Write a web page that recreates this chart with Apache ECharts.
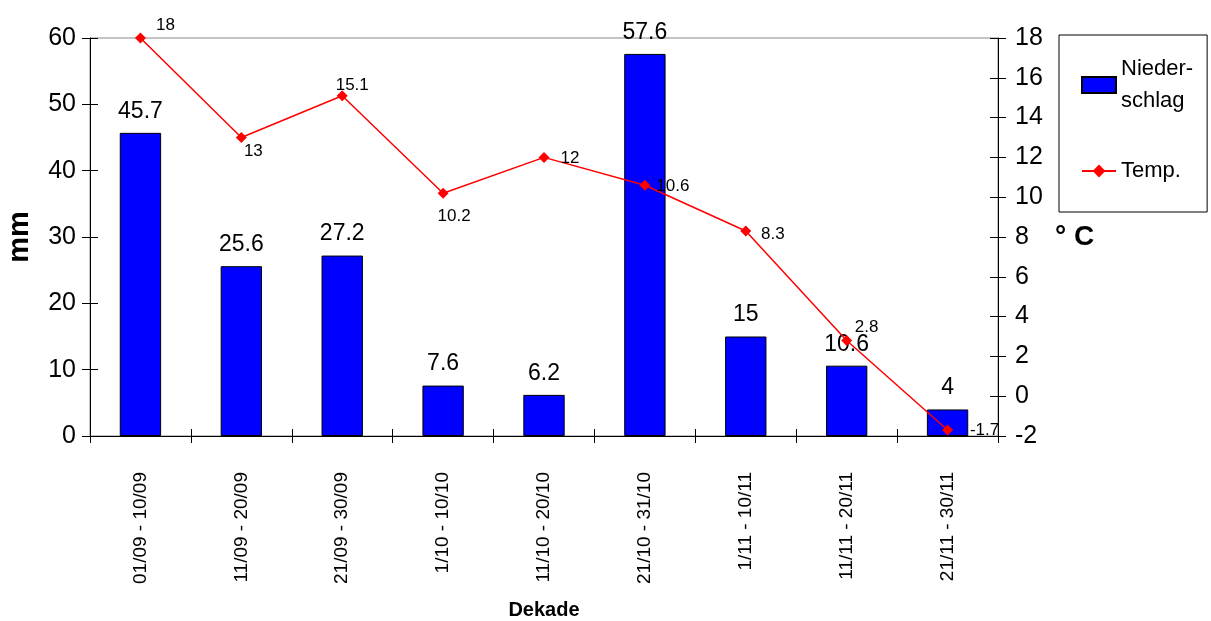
<!DOCTYPE html>
<html>
<head>
<meta charset="utf-8">
<script src="https://cdn.jsdelivr.net/npm/echarts@6/dist/echarts.min.js"></script>
<style>
  html,body{margin:0;padding:0;background:#fff;}
  #chart{width:1211px;height:621px;}
</style>
</head>
<body>
<div id="chart"></div>
<script>
var dekaden = ["01/09 - 10/09", "11/09 - 20/09", "21/09 - 30/09", "1/10 - 10/10", "11/10 - 20/10",
  "21/10 - 31/10", "1/11 - 10/11", "11/11 - 20/11", "21/11 - 30/11"];
var niederschlag = [45.7, 25.6, 27.2, 7.6, 6.2, 57.6, 15, 10.6, 4];
var temp = [18, 13, 15.1, 10.2, 12, 10.6, 8.3, 2.8, -1.7];
var mmTicks = { min: 0, max: 60, step: 10 };
var cTicks = { min: -2, max: 18, step: 2 };

var font = "Arial, 'Liberation Sans', sans-serif";
var chart = echarts.init(document.getElementById("chart"));

// where each temperature label sits around its point
var tempLabelOffset = [[25, -13], [12, 14], [10, -10], [11, 23], [26, 1], [28, 1], [27, 3], [20, -13], [37, 0]];

var tempData = [];
for (var i = 0; i < temp.length; i++) {
  tempData.push({
    value: temp[i],
    label: { offset: tempLabelOffset[i] }
  });
}

function yAx(pos, t, inside, labels) {
  return {
    type: "value", position: pos, min: t.min, max: t.max, interval: t.step,
    axisLine: { show: labels, lineStyle: { color: "#000", width: 1 } },
    axisTick: { show: true, inside: inside, length: 8, lineStyle: { color: "#000" } },
    axisLabel: { show: labels, color: "#000", fontSize: 25, fontFamily: font, margin: pos == "left" ? 14 : 17 },
    splitLine: { show: false }
  };
}

chart.setOption({
  animation: false,
  grid: { left: 90, right: 213, top: 38, bottom: 185, show: true, borderColor: "#888", borderWidth: 1,
    outerBoundsMode: "none", containLabel: false },
  legend: {
    orient: "vertical", left: 1059, top: 35,
    padding: [18, 14, 25, 22],
    itemGap: 38, itemWidth: 34, itemHeight: 16,
    backgroundColor: "#fff", borderColor: "#000", borderWidth: 1,
    textStyle: { color: "#000", fontSize: 22, fontFamily: font, lineHeight: 32 },
    formatter: function(name) { return name == "Niederschlag" ? "Nieder-\nschlag" : name; },
    data: [{ name: "Niederschlag", icon: "rect" }, { name: "Temp." }]
  },
  xAxis: [{
    type: "category", data: dekaden, boundaryGap: true,
    name: "Dekade", nameLocation: "middle", nameGap: 164, nameMoveOverlap: false,
    nameTextStyle: { color: "#000", fontSize: 20, fontWeight: "bold", fontFamily: font },
    axisLine: { onZero: false, lineStyle: { color: "#000" } },
    axisTick: { show: true, length: 7, lineStyle: { color: "#000" } },
    axisLabel: { rotate: 90, color: "#000", fontSize: 19, fontFamily: font, margin: 36 }
  }, {
    type: "category", data: dekaden, position: "bottom", boundaryGap: true,
    axisLine: { show: false, onZero: false },
    axisTick: { show: true, inside: true, length: 7, lineStyle: { color: "#000" } },
    axisLabel: { show: false }
  }],
  yAxis: [
    Object.assign(yAx("left", mmTicks, false, true), {
      name: "mm", nameLocation: "middle", nameGap: 56, nameRotate: 90, nameMoveOverlap: false,
      nameTextStyle: { color: "#000", fontSize: 29, fontWeight: "bold", fontFamily: font }
    }),
    Object.assign(yAx("right", cTicks, false, true), {
      name: "° C", nameLocation: "middle", nameGap: 57, nameRotate: 0, nameMoveOverlap: false,
      nameTextStyle: { color: "#000", fontSize: 28, fontWeight: "bold", fontFamily: font, padding: [12, 0, 0, 0] }
    }),
    yAx("left", mmTicks, true, false),
    yAx("right", cTicks, true, false)
  ],
  series: [{
    name: "Niederschlag", type: "bar", yAxisIndex: 0, data: niederschlag,
    barWidth: "41%",
    itemStyle: { color: "#0000ff", borderColor: "#000", borderWidth: 1 },
    label: { show: true, position: "top", distance: 10, color: "#000", fontSize: 23, fontFamily: font }
  }, {
    name: "Temp.", type: "line", yAxisIndex: 1, data: tempData,
    symbol: "diamond", symbolSize: 11,
    lineStyle: { color: "#ff0000", width: 1.5 },
    itemStyle: { color: "#ff0000" },
    label: { show: true, position: "inside", color: "#000", fontSize: 17, fontFamily: font }
  }]
});
</script>
</body>
</html>
